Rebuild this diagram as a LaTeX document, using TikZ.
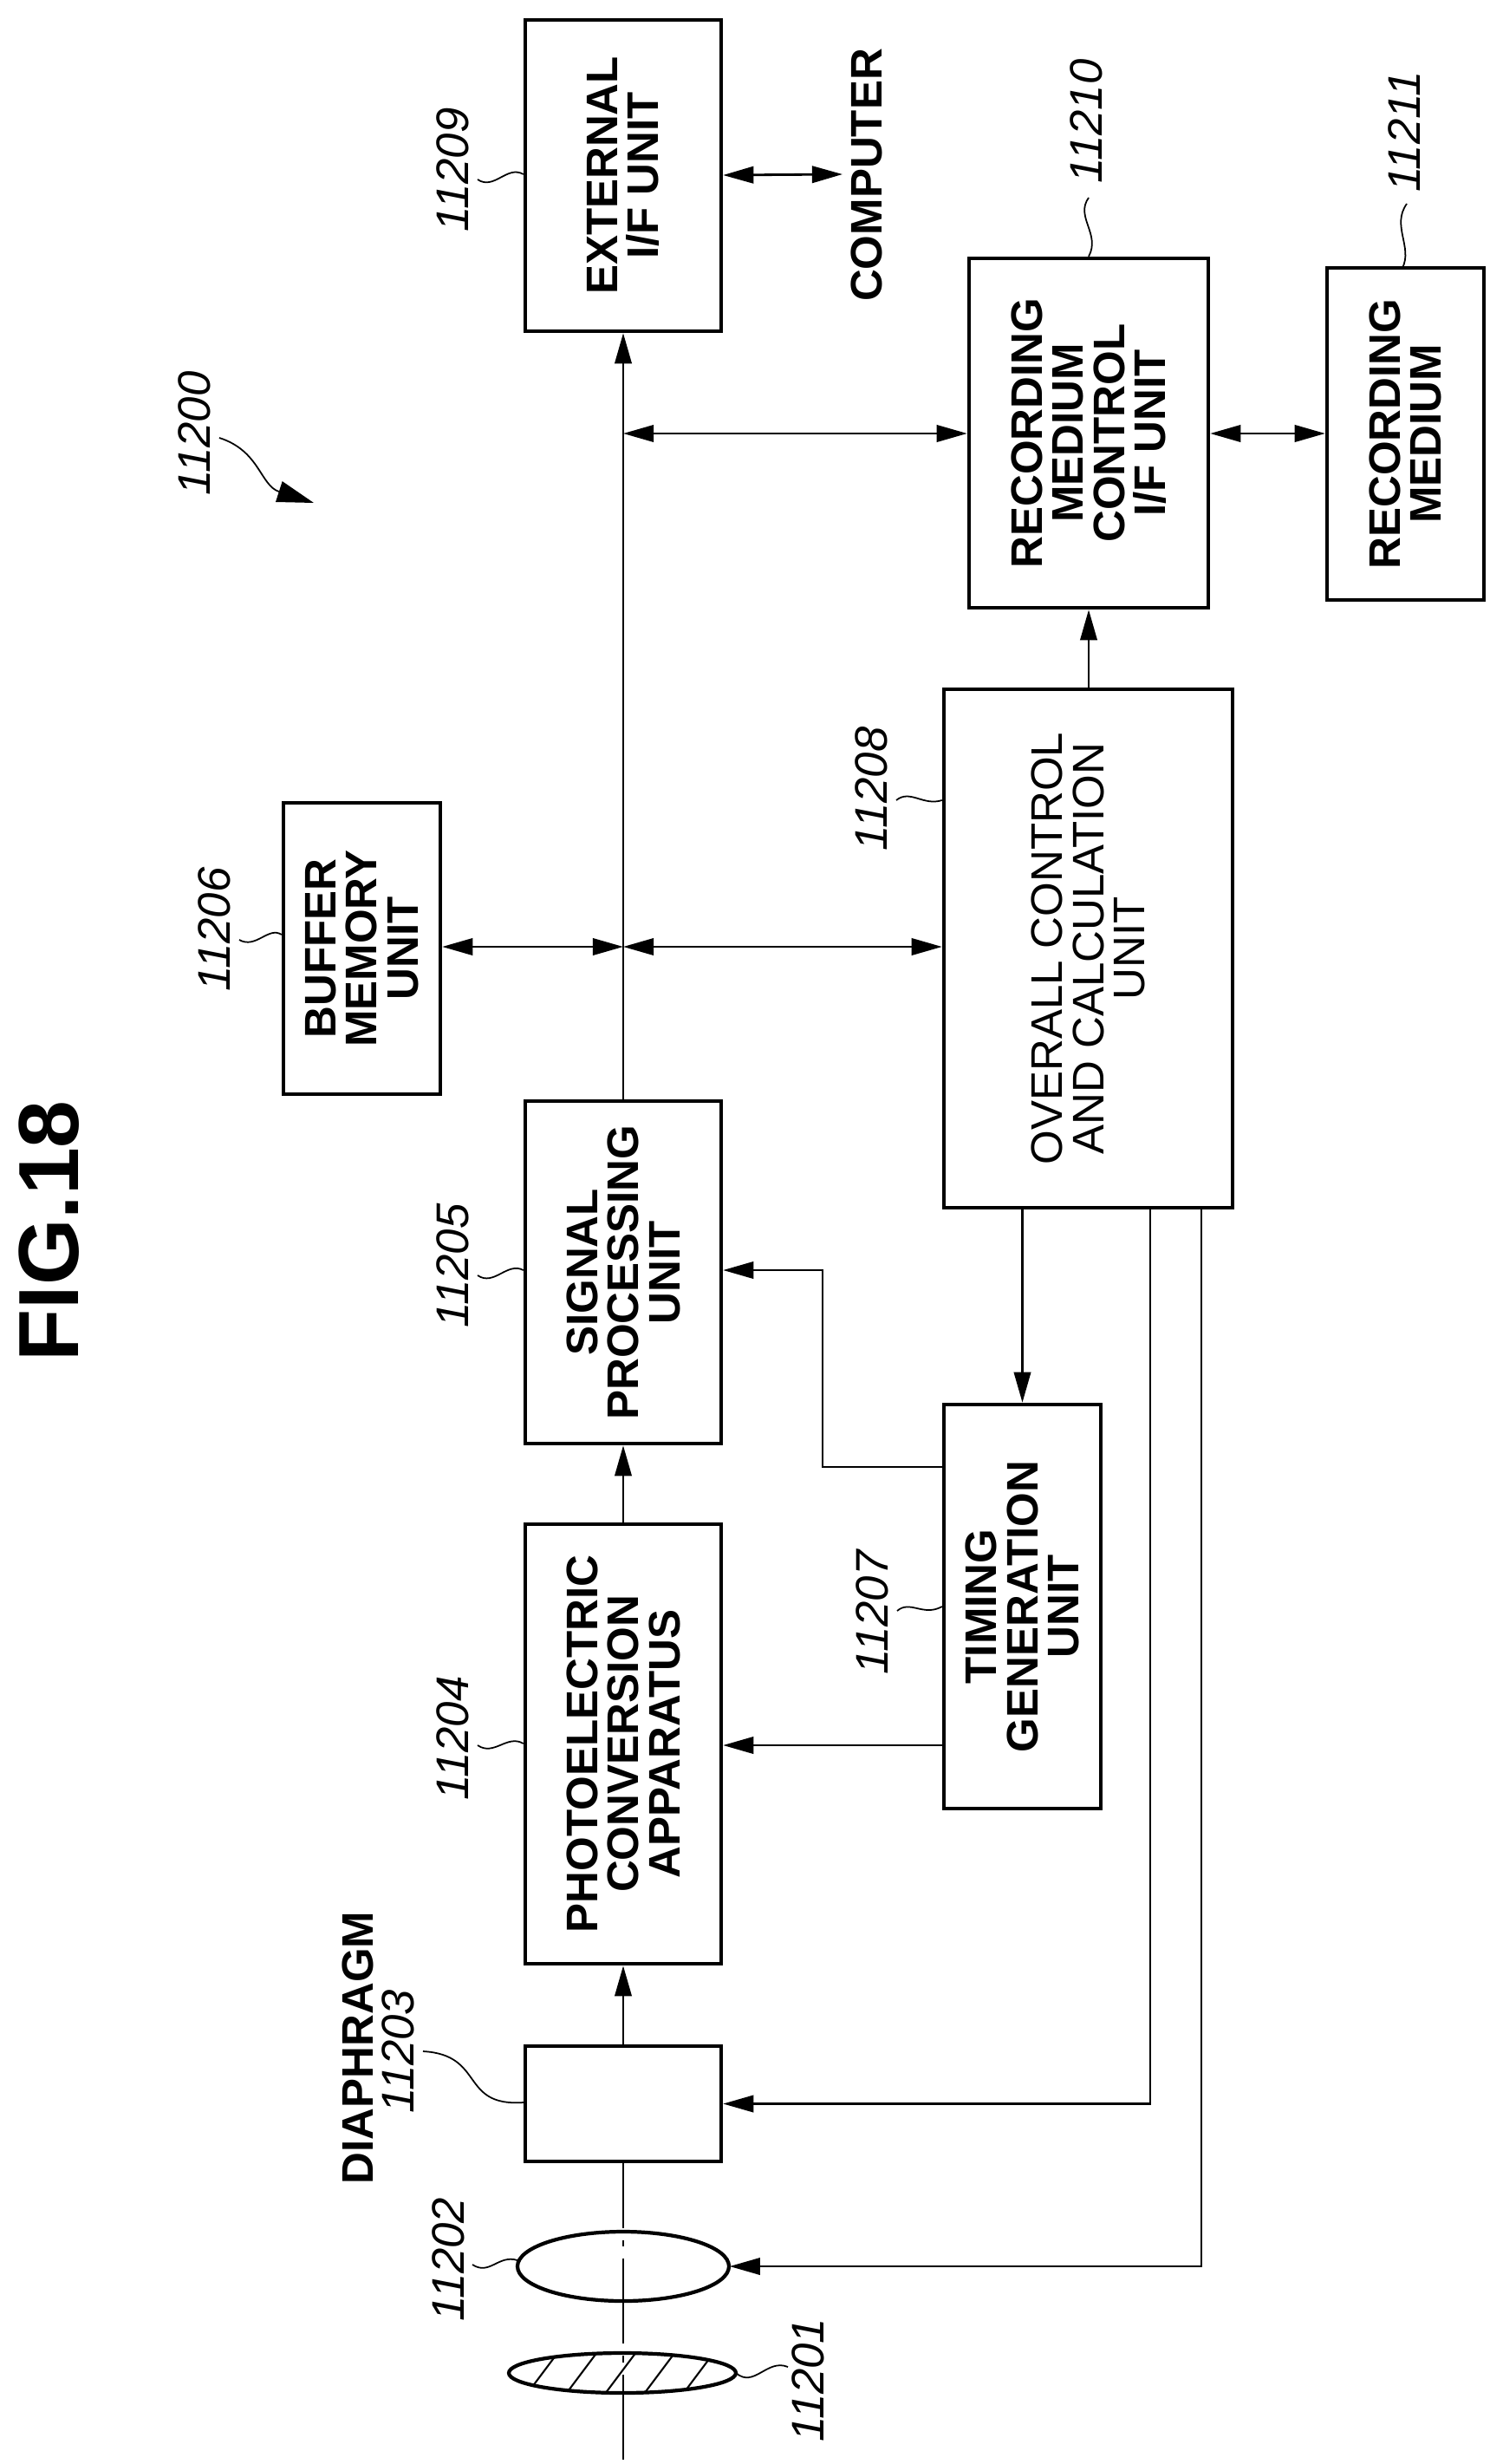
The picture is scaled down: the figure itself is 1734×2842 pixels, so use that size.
\documentclass[tikz,border=0pt]{standalone}
\usepackage{fontspec}
\setmainfont{Liberation Sans}
\usetikzlibrary{arrows.meta}

\begin{document}
\begin{tikzpicture}[x=0.01cm, y=-0.01cm,
    block/.style={draw, line width=1.2pt, inner sep=0pt},
    boxtext/.style={rotate=90, align=center, font=\fontsize{14.5}{13.5}\selectfont\bfseries},
    refnum/.style={rotate=90, font=\fontsize{15}{15}\selectfont\itshape},
    link/.style={line width=0.8pt, -{Triangle[length=10pt, width=5.5pt]}},
    both/.style={line width=0.8pt, {Triangle[length=10pt, width=5.5pt]}-{Triangle[length=10pt, width=5.5pt]}},
    leader/.style={line width=0.5pt}]

  \useasboundingbox (0,0) rectangle (1734,2842);

  % Blocks
  \node[block, minimum width=2.26cm, minimum height=3.59cm] (ext) at (719,202.5) {};
  \node[block, minimum width=1.81cm, minimum height=3.36cm] (buf) at (417.5,1094) {};
  \node[block, minimum width=2.26cm, minimum height=3.95cm] (sig) at (719,1467.5) {};
  \node[block, minimum width=2.26cm, minimum height=5.07cm] (pho) at (719,2011.5) {};
  \node[block, minimum width=2.26cm, minimum height=1.33cm] (dia) at (719,2426.5) {};
  \node[block, minimum width=3.33cm, minimum height=5.98cm] (ovr) at (1255.5,1094) {};
  \node[block, minimum width=1.81cm, minimum height=4.66cm] (tim) at (1179.5,1853) {};
  \node[block, minimum width=2.76cm, minimum height=4.03cm] (rmc) at (1256,499.5) {};
  \node[block, minimum width=1.81cm, minimum height=3.83cm] (rm) at (1621.5,500.5) {};

  \node[boxtext] at (ext) {EXTERNAL\\I/F UNIT};
  \node[boxtext] at (buf) {BUFFER\\MEMORY\\UNIT};
  \node[boxtext] at (sig) {SIGNAL\\PROCESSING\\UNIT};
  \node[boxtext] at (pho) {PHOTOELECTRIC\\CONVERSION\\APPARATUS};
  \node[boxtext, font=\fontsize{14.5}{13.5}\selectfont] at (ovr) {OVERALL CONTROL\\AND CALCULATION\\UNIT};
  \node[boxtext] at (tim) {TIMING\\GENERATION\\UNIT};
  \node[boxtext] at (rmc) {RECORDING\\MEDIUM\\CONTROL\\I/F UNIT};
  \node[boxtext] at (rm) {RECORDING\\MEDIUM};
  \node[boxtext] (comp) at (1000,202) {COMPUTER};
  \node[boxtext] (diatext) at (413,2362) {DIAPHRAGM};
  \node[rotate=90, font=\fontsize{28}{28}\selectfont\bfseries] (fig) at (57,1420) {FIG.18};

  % Lenses
  \draw[line width=1.2pt] (719,2614) ellipse [x radius=122, y radius=40];
  \node[minimum width=2.44cm, minimum height=0.8cm, inner sep=0pt] (lens) at (719,2614) {};
  \begin{scope}
    \clip (718,2737) ellipse [x radius=131, y radius=23];
    \foreach \i in {560,605,...,880}
      \draw[line width=0.6pt] (\i,2765) -- ++(45,-60);
  \end{scope}
  \draw[line width=1.2pt] (718,2737) ellipse [x radius=131, y radius=23];

  % Optical axis
  \draw[line width=0.6pt, dash pattern=on 28pt off 4pt on 2pt off 4pt] (719,2837) -- (dia.south);
  \draw[link] (dia.north) -- (pho.south);
  \draw[link] (pho.north) -- (sig.south);
  \draw[link] (sig.north) -- (ext.south);

  % Bus
  \coordinate (busa) at (719,1092);
  \coordinate (busb) at (719,500);
  \draw[both] (buf.east |- busa) -- (busa);
  \draw[both] (busa) -- (ovr.west |- busa);
  \draw[both] (busb) -- (rmc.west |- busb);
  \draw[both] (rmc.east |- busb) -- (rm.west |- busb);
  \draw[both] (ext.east |- comp) -- (972,201);

  % Control lines
  \draw[link] (ovr.north -| rmc.south) -- (rmc.south);
  \draw[link] (ovr.south -| tim.north) -- (tim.north);
  \draw[link] (tim.west |- 0,1692) -- (949,1692) |- (sig.east |- 0,1465);
  \draw[link] (tim.west |- 0,2013) -- (pho.east |- 0,2013);
  \draw[link] (ovr.south -| 1327,0) |- (dia.east);
  \draw[link] (ovr.south -| 1386,0) |- (lens.east);

  % Reference numerals
  \node[refnum] (n11200) at (224,500) {11200};
  \draw[leader, -{Triangle[length=12pt, width=7pt]}] (253,505) .. controls (300,520) and (300,560) .. (362,580);
  \node[refnum] (n11209) at (522,196) {11209};
  \draw[leader] (551,207) .. controls (570,220) and (585,190) .. (ext.west |- 0,201);
  \node[refnum] (n11206) at (247,1072) {11206};
  \draw[leader] (276,1084) .. controls (295,1095) and (310,1068) .. (buf.west |- 0,1078);
  \node[refnum] (n11205) at (522,1460) {11205};
  \draw[leader] (551,1471) .. controls (570,1484) and (585,1455) .. (sig.west |- 0,1465);
  \node[refnum] (n11204) at (522,2005) {11204};
  \draw[leader] (551,2013) .. controls (570,2026) and (585,2000) .. (pho.west |- 0,2011);
  \node[refnum] (n11203) at (459,2366) {11203};
  \draw[leader] (488,2366) .. controls (560,2370) and (530,2430) .. (dia.west |- 0,2425);
  \node[refnum] (n11202) at (517,2606) {11202};
  \draw[leader] (545,2612) .. controls (565,2625) and (575,2600) .. (597,2607);
  \node[refnum] (n11201) at (932,2745) {11201};
  \draw[leader] (849,2737) .. controls (870,2755) and (885,2720) .. (909,2730);
  \node[refnum] (n11207) at (1006,1860) {11207};
  \draw[leader] (1035,1858) .. controls (1050,1845) and (1065,1865) .. (tim.west |- 0,1853);
  \node[refnum] (n11208) at (1005,910) {11208};
  \draw[leader] (1034,923) .. controls (1050,910) and (1065,930) .. (ovr.west |- 0,923);
  \node[refnum] (n11210) at (1253,140) {11210};
  \draw[leader] (1256,228) .. controls (1240,250) and (1270,270) .. (rmc.north);
  \node[refnum] (n11211) at (1620,152) {11211};
  \draw[leader] (1623,235) .. controls (1605,260) and (1630,285) .. (1618,309);

\end{tikzpicture}
\end{document}
